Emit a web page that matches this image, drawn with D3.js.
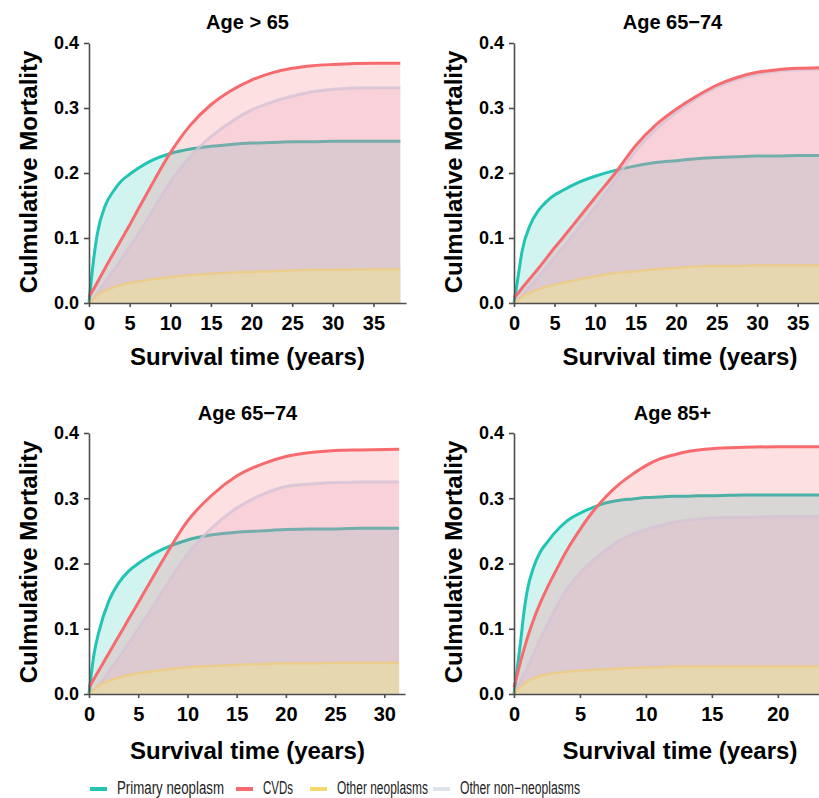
<!DOCTYPE html>
<meta charset="utf-8">
<style>
  body { margin: 0; background: #fff; }
  text { font-family: "Liberation Sans", Arial, sans-serif; }
</style>
<svg width="819" height="798"></svg>

<script src="https://cdn.jsdelivr.net/npm/d3@7/dist/d3.min.js"></script>
<script>

// panel titles and x-axis extents (years)
var titles = ["Age > 65", "Age 65\u221274", "Age 65\u221274", "Age 85+"]
var xMaxes = [39, 38, 32.1, 23.5]
var xTickSets = [
  [0, 5, 10, 15, 20, 25, 30, 35],
  [0, 5, 10, 15, 20, 25, 30, 35],
  [0, 5, 10, 15, 20, 25, 30],
  [0, 5, 10, 15, 20]
]
var yTicks = [0, 0.1, 0.2, 0.3, 0.4]

// panel 1: Age > 65
var p1Time     = [0, 0.5, 1, 2, 3, 4, 5, 6, 7.5, 10, 12.5, 15, 17.5, 20, 22.5, 25, 27.5, 30, 35, 38.3]
var p1Primary  = [0, 0.06, 0.105, 0.15, 0.172, 0.188, 0.198, 0.207, 0.218, 0.23, 0.237, 0.241, 0.244, 0.246, 0.247, 0.248, 0.248, 0.249, 0.249, 0.249]
var p1CVD      = [0.01, 0.02, 0.031, 0.054, 0.076, 0.098, 0.12, 0.143, 0.177, 0.231, 0.274, 0.305, 0.327, 0.343, 0.354, 0.361, 0.365, 0.367, 0.369, 0.369]
var p1OtherNeo = [0, 0.006, 0.012, 0.019, 0.024, 0.028, 0.031, 0.033, 0.036, 0.04, 0.043, 0.045, 0.047, 0.048, 0.049, 0.05, 0.051, 0.051, 0.052, 0.052]
var p1OtherNon = [0, 0.006, 0.014, 0.032, 0.05, 0.068, 0.086, 0.105, 0.135, 0.186, 0.226, 0.256, 0.279, 0.297, 0.309, 0.318, 0.325, 0.329, 0.331, 0.331]

// panel 2: Age 65-74
var p2Time     = [0, 0.5, 1, 2, 3, 4, 5, 6, 7.5, 10, 12.5, 15, 17.5, 20, 22.5, 25, 27.5, 30, 32.5, 35, 38]
var p2Primary  = [0, 0.04, 0.08, 0.12, 0.142, 0.156, 0.166, 0.173, 0.183, 0.195, 0.204, 0.211, 0.216, 0.219, 0.222, 0.224, 0.225, 0.226, 0.226, 0.227, 0.227]
var p2CVD      = [0.008, 0.015, 0.023, 0.038, 0.053, 0.069, 0.085, 0.1, 0.123, 0.162, 0.2, 0.242, 0.274, 0.298, 0.318, 0.335, 0.347, 0.355, 0.359, 0.361, 0.362]
var p2OtherNeo = [0, 0.005, 0.01, 0.016, 0.021, 0.025, 0.028, 0.031, 0.035, 0.041, 0.046, 0.049, 0.052, 0.054, 0.056, 0.057, 0.057, 0.058, 0.058, 0.058, 0.058]
var p2OtherNon = [0, 0.006, 0.012, 0.026, 0.04, 0.055, 0.07, 0.085, 0.108, 0.147, 0.19, 0.234, 0.267, 0.293, 0.315, 0.332, 0.344, 0.352, 0.357, 0.359, 0.36]

// panel 3: Age 65-74
var p3Time     = [0, 0.5, 1, 2, 3, 4, 5, 6, 7.5, 10, 12.5, 15, 17.5, 20, 22.5, 25, 27.5, 31.5]
var p3Primary  = [0, 0.06, 0.095, 0.142, 0.17, 0.188, 0.2, 0.21, 0.222, 0.236, 0.244, 0.248, 0.25, 0.252, 0.253, 0.253, 0.254, 0.254]
var p3CVD      = [0.01, 0.023, 0.036, 0.062, 0.088, 0.114, 0.14, 0.166, 0.205, 0.265, 0.305, 0.334, 0.352, 0.364, 0.37, 0.373, 0.374, 0.375]
var p3OtherNeo = [0, 0.007, 0.013, 0.02, 0.025, 0.029, 0.032, 0.034, 0.037, 0.041, 0.043, 0.045, 0.046, 0.047, 0.047, 0.048, 0.048, 0.048]
var p3OtherNon = [0, 0.006, 0.014, 0.034, 0.055, 0.077, 0.1, 0.122, 0.158, 0.214, 0.255, 0.285, 0.305, 0.318, 0.322, 0.324, 0.325, 0.325]

// panel 4: Age 85+
var p4Time     = [0, 0.25, 0.5, 0.75, 1, 1.5, 2, 2.5, 3, 4, 5, 6, 7, 8, 9, 10, 11, 12, 13, 14, 15, 17.5, 20, 23.5]
var p4Primary  = [0, 0.04, 0.08, 0.125, 0.158, 0.195, 0.218, 0.232, 0.245, 0.265, 0.277, 0.286, 0.293, 0.297, 0.299, 0.301, 0.302, 0.303, 0.303, 0.304, 0.304, 0.305, 0.305, 0.305]
var p4CVD      = [0.01, 0.03, 0.05, 0.068, 0.085, 0.115, 0.14, 0.162, 0.182, 0.22, 0.252, 0.28, 0.303, 0.322, 0.337, 0.35, 0.36, 0.366, 0.371, 0.374, 0.376, 0.378, 0.379, 0.379]
var p4OtherNeo = [0, 0.006, 0.011, 0.015, 0.019, 0.024, 0.028, 0.03, 0.032, 0.034, 0.036, 0.037, 0.038, 0.039, 0.04, 0.041, 0.041, 0.042, 0.042, 0.042, 0.042, 0.042, 0.042, 0.042]
var p4OtherNon = [0, 0.01, 0.02, 0.03, 0.04, 0.062, 0.085, 0.105, 0.125, 0.16, 0.185, 0.205, 0.221, 0.235, 0.245, 0.252, 0.258, 0.263, 0.266, 0.268, 0.27, 0.271, 0.272, 0.272]

var legendNames = ["Primary neoplasm", "CVDs", "Other neoplasms", "Other non\u2212neoplasms"]

var panelData = [
  { time: p1Time, primary: p1Primary, cvd: p1CVD, otherNeo: p1OtherNeo, otherNon: p1OtherNon },
  { time: p2Time, primary: p2Primary, cvd: p2CVD, otherNeo: p2OtherNeo, otherNon: p2OtherNon },
  { time: p3Time, primary: p3Primary, cvd: p3CVD, otherNeo: p3OtherNeo, otherNon: p3OtherNon },
  { time: p4Time, primary: p4Primary, cvd: p4CVD, otherNeo: p4OtherNeo, otherNon: p4OtherNon }
]

// layout of each panel (pixels)
var layout = [
  { left: 89,  right: 406, top: 43,  bottom: 303 },
  { left: 514, right: 822, top: 43,  bottom: 303 },
  { left: 89,  right: 405, top: 433, bottom: 694 },
  { left: 514, right: 824, top: 433, bottom: 694 }
]

var colors = {
  primary:  "#22c4b4",
  cvd:      "#f76a6d",
  otherNeo: "#f5d86e",
  otherNon: "#dde3e8"
}

var svg = d3.select("svg")

panelData.forEach(function(d, i) {
  var L = layout[i]
  var x = d3.scaleLinear().domain([0, xMaxes[i]]).range([L.left, L.right])
  var y = d3.scaleLinear().domain([0, 0.4]).range([L.bottom, L.top])
  var g = svg.append("g")

  function series(key) {
    return d.time.map(function(t, j) { return { t: t, v: d[key][j] } })
  }
  var area = d3.area()
      .x(function(p) { return x(p.t) })
      .y0(y(0))
      .y1(function(p) { return y(p.v) })
      .curve(d3.curveMonotoneX)
  var line = d3.line()
      .x(function(p) { return x(p.t) })
      .y(function(p) { return y(p.v) })
      .curve(d3.curveMonotoneX)

  // layers: teal, then red fill, grey, yellow, red line on top
  g.append("path").attr("d", area(series("primary")))
      .attr("fill", "rgb(30,200,180)").attr("fill-opacity", 0.2)
  g.append("path").attr("d", line(series("primary")))
      .attr("fill", "none").attr("stroke", colors.primary).attr("stroke-width", 3)
  g.append("path").attr("d", area(series("cvd")))
      .attr("fill", "rgb(245,100,110)").attr("fill-opacity", 0.2)
  g.append("path").attr("d", area(series("otherNon")))
      .attr("fill", "rgb(237,164,190)").attr("fill-opacity", 0.25)
  g.append("path").attr("d", line(series("otherNon")))
      .attr("fill", "none").attr("stroke", "#d4c3d4").attr("stroke-width", 3).attr("stroke-opacity", 0.8)
  g.append("path").attr("d", area(series("otherNeo")))
      .attr("fill", "rgb(236,226,150)").attr("fill-opacity", 0.55)
  g.append("path").attr("d", line(series("otherNeo")))
      .attr("fill", "none").attr("stroke", "#eecb80").attr("stroke-width", 2.5).attr("stroke-opacity", 0.8)
  g.append("path").attr("d", line(series("cvd")))
      .attr("fill", "none").attr("stroke", colors.cvd).attr("stroke-width", 3)

  // axes
  var xAxis = g.append("g")
      .attr("transform", "translate(0," + L.bottom + ")")
      .call(d3.axisBottom(x).tickValues(xTickSets[i]).tickSize(4).tickPadding(9).tickSizeOuter(0))
  var yAxis = g.append("g")
      .attr("transform", "translate(" + L.left + ",0)")
      .call(d3.axisLeft(y).tickValues(yTicks).tickFormat(d3.format(".1f")).tickSize(5).tickPadding(5).tickSizeOuter(0))
  ;[xAxis, yAxis].forEach(function(a) {
    a.select(".domain").attr("stroke", "#4d4d4d").attr("stroke-width", 1.6)
    a.selectAll(".tick line").attr("stroke", "#4d4d4d").attr("stroke-width", 1.6)
    a.selectAll("text").attr("fill", "#000").attr("font-weight", "bold")
      .style("font-family", "'Liberation Sans', Arial, sans-serif")
  })
  xAxis.selectAll("text").attr("font-size", 20)
  yAxis.selectAll("text").attr("font-size", 18)

  var cx = (i % 2 === 0) ? 247.5 : 672.5
  var topRow = i < 2
  // title
  g.append("text")
      .attr("x", cx).attr("y", topRow ? 29 : 420)
      .attr("text-anchor", "middle")
      .attr("font-size", 20).attr("font-weight", "bold")
      .text(titles[i])
  // x label
  g.append("text")
      .attr("x", (i % 2 === 0) ? 247.5 : 680)
      .attr("y", topRow ? 365 : 759)
      .attr("text-anchor", "middle")
      .attr("font-size", 24).attr("font-weight", "bold")
      .text("Survival time (years)")
  // y label
  var ly = topRow ? 172 : 562
  var lx = (i % 2 === 0) ? 37 : 462
  g.append("text")
      .attr("transform", "translate(" + lx + "," + ly + ") rotate(-90)")
      .attr("text-anchor", "middle")
      .attr("font-size", 24).attr("font-weight", "bold")
      .text("Culmulative Mortality")
})

// legend
var legendKeys = ["primary", "cvd", "otherNeo", "otherNon"]
var legendX = [90, 236, 310, 433]
var legendW = [107, 30, 91, 120]
var legend = svg.append("g")
legendKeys.forEach(function(k, i) {
  legend.append("line")
      .attr("x1", legendX[i]).attr("x2", legendX[i] + 17)
      .attr("y1", 789).attr("y2", 789)
      .attr("stroke", colors[k]).attr("stroke-width", 4)
  legend.append("text")
      .attr("x", legendX[i] + 27).attr("y", 794)
      .attr("font-size", 17.5)
      .attr("fill", "#222")
      .attr("textLength", legendW[i])
      .attr("lengthAdjust", "spacingAndGlyphs")
      .text(legendNames[i])
})

</script>
